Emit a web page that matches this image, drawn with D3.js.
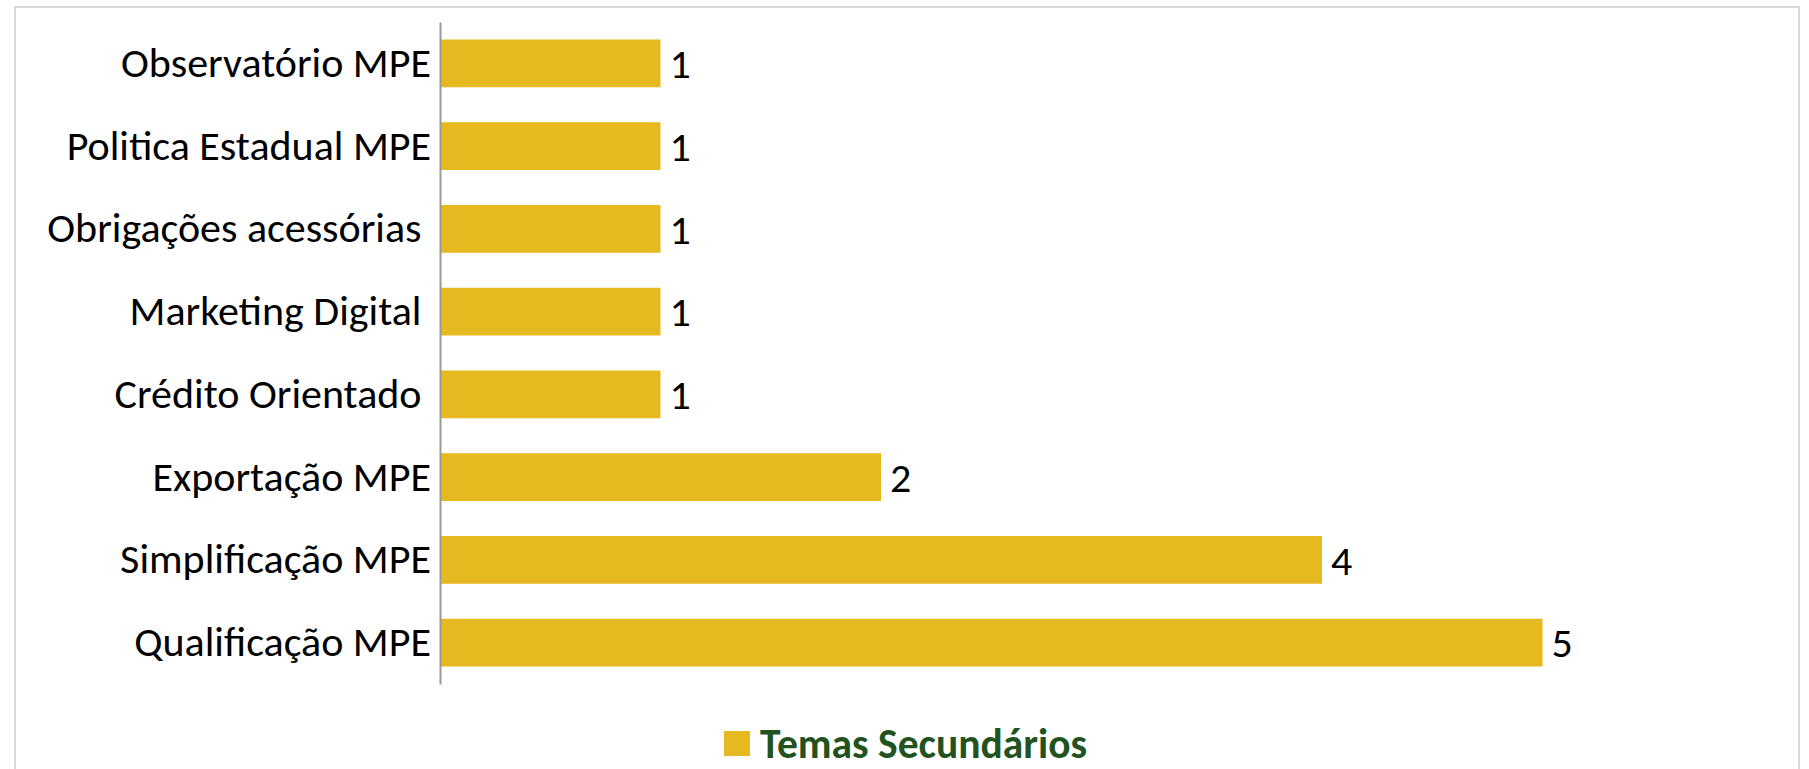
<!DOCTYPE html>
<html lang="pt">
<head>
  <meta charset="UTF-8">
  <title>Temas Secundários</title>
  <script src="https://d3js.org/d3.v7.min.js"></script>
  <style>
    body { margin: 0; background: #fff; }
    text { font-family: Carlito, Lato, sans-serif; }
    .cat-label { font-size: 42px; fill: #000; white-space: pre; }
    .bar-label { font-size: 42px; fill: #000; }
    .legend-text { font-size: 41.5px; font-weight: bold; fill: #22531f; }
  </style>
</head>
<body>
  <div id="chart"></div>
  <script>
    // dados (de cima para baixo)
    const categories = [
      "Observatório MPE",
      "Politica Estadual MPE",
      "Obrigações acessórias ",
      "Marketing Digital ",
      "Crédito Orientado ",
      "Exportação MPE",
      "Simplificação MPE",
      "Qualificação MPE"
    ];
    const values = [1, 1, 1, 1, 1, 2, 4, 5];
    const seriesName = "Temas Secundários";

    const W = 1809, H = 769;
    const barColor = "#e5b91f";

    const svg = d3.select("#chart").append("svg")
      .attr("width", W)
      .attr("height", H);

    // moldura
    svg.append("rect")
      .attr("x", 15).attr("y", 7)
      .attr("width", 1784).attr("height", 800)
      .attr("fill", "none")
      .attr("stroke", "#d9d9d9")
      .attr("stroke-width", 2);

    const y = d3.scaleBand()
      .domain(categories)
      .range([22, 684])
      .paddingInner(0.423)
      .paddingOuter(0.2115);

    const x = d3.scaleLinear()
      .domain([0, 5])
      .range([440, 1542.5]);

    svg.selectAll(".bar")
      .data(categories)
      .enter()
      .append("rect")
      .attr("class", "bar")
      .attr("x", x(0))
      .attr("y", d => y(d))
      .attr("width", (d, i) => x(values[i]) - x(0))
      .attr("height", y.bandwidth())
      .attr("fill", barColor);

    const axis = svg.append("g")
      .attr("transform", `translate(${x(0)},0)`)
      .call(d3.axisLeft(y).tickSize(0).tickSizeOuter(0).tickPadding(9));
    axis.select(".domain")
      .attr("stroke", "#999")
      .attr("stroke-width", 2);
    axis.selectAll(".tick text")
      .attr("class", "cat-label")
      .attr("font-family", null)
      .attr("font-size", null)
      .attr("fill", null);

    svg.selectAll(".bar-label")
      .data(categories)
      .enter()
      .append("text")
      .attr("class", "bar-label")
      .attr("x", (d, i) => x(values[i]) + 9)
      .attr("y", d => y(d) + y.bandwidth() / 2)
      .attr("dy", "0.35em")
      .text((d, i) => values[i]);

    // legenda
    const legend = svg.append("g").attr("transform", "translate(724,731)");
    legend.append("rect")
      .attr("width", 26).attr("height", 25)
      .attr("fill", barColor);
    legend.append("text")
      .attr("class", "legend-text")
      .attr("x", 36)
      .attr("y", 12.5)
      .attr("dy", "0.35em")
      .text(seriesName);
  </script>
</body>
</html>
